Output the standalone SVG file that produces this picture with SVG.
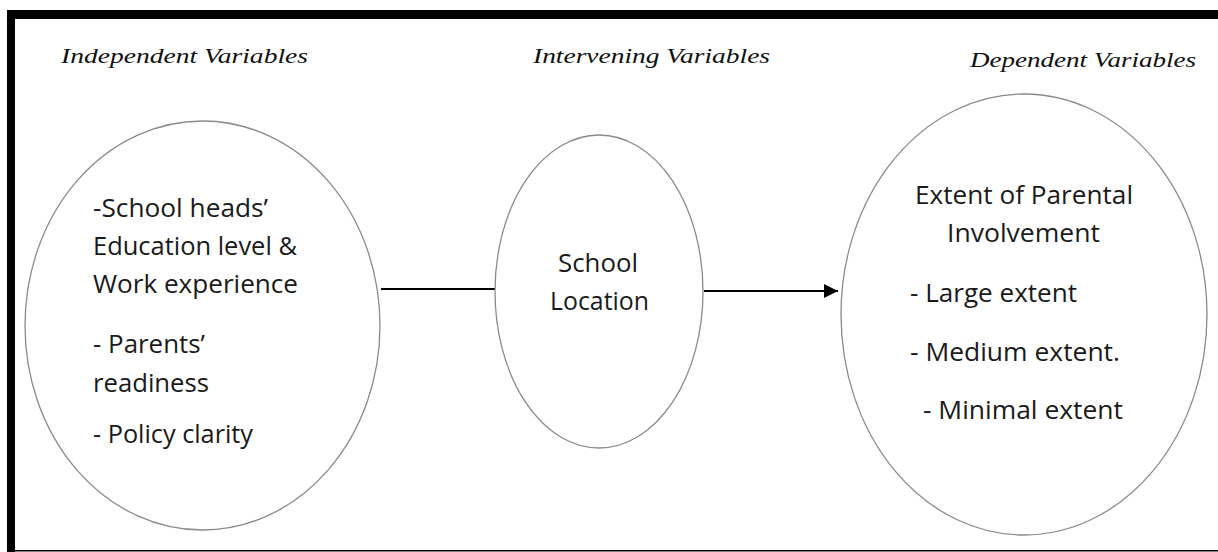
<svg xmlns="http://www.w3.org/2000/svg" width="1218" height="552" viewBox="0 0 1218 552">
<defs>
<style>
.title{font-family:"Liberation Serif","Times New Roman",serif;font-style:italic;font-size:22px;fill:#111;}
.body{font-family:"Open Sans","Liberation Sans",sans-serif;font-size:25px;fill:#1a1a1a;}
.node{fill:#fff;stroke:#8a8a8a;stroke-width:1.3;}
.conn{stroke:#000;stroke-width:2;fill:none;}
</style>
<marker id="arrow" markerWidth="16" markerHeight="16" refX="14" refY="7" orient="auto" markerUnits="userSpaceOnUse">
<path d="M0,0 L14,7 L0,14 Z" fill="#000"/>
</marker>
</defs>
<rect x="0" y="0" width="1218" height="552" fill="#fff"/>
<g id="frame">
<rect x="7" y="10" width="1211" height="9" fill="#000"/>
<rect x="7" y="10" width="8" height="542" fill="#000"/>
<rect x="15" y="550" width="1203" height="1.5" fill="#000"/>
</g>
<g id="headings">
<text class="title" x="61" y="63" textLength="247" lengthAdjust="spacingAndGlyphs">Independent Variables</text>
<text class="title" x="533" y="63" textLength="237" lengthAdjust="spacingAndGlyphs">Intervening Variables</text>
<text class="title" x="970" y="67" textLength="226" lengthAdjust="spacingAndGlyphs">Dependent Variables</text>
</g>
<g id="connectors">
<line class="conn" x1="381" y1="289" x2="496" y2="289"/>
<line class="conn" x1="704" y1="291" x2="838" y2="291" marker-end="url(#arrow)"/>
</g>
<g id="node-independent">
<ellipse class="node" cx="202.5" cy="325.5" rx="177.5" ry="204.5"/>
<text class="body" x="93" y="217" textLength="175" lengthAdjust="spacingAndGlyphs">-School heads’</text>
<text class="body" x="93" y="255" textLength="204" lengthAdjust="spacingAndGlyphs">Education level &amp;</text>
<text class="body" x="93" y="293" textLength="205" lengthAdjust="spacingAndGlyphs">Work experience</text>
<text class="body" x="93" y="353" textLength="112" lengthAdjust="spacingAndGlyphs">- Parents’</text>
<text class="body" x="93" y="392" textLength="116" lengthAdjust="spacingAndGlyphs">readiness</text>
<text class="body" x="93" y="443" textLength="160" lengthAdjust="spacingAndGlyphs">- Policy clarity</text>
</g>
<g id="node-intervening">
<ellipse class="node" cx="599" cy="291.5" rx="104" ry="156.5"/>
<text class="body" x="558" y="272" textLength="80" lengthAdjust="spacingAndGlyphs">School</text>
<text class="body" x="550" y="310" textLength="99" lengthAdjust="spacingAndGlyphs">Location</text>
</g>
<g id="node-dependent">
<ellipse class="node" cx="1024" cy="314.5" rx="183" ry="220.5"/>
<text class="body" x="915" y="204" textLength="218" lengthAdjust="spacingAndGlyphs">Extent of Parental</text>
<text class="body" x="947" y="242" textLength="153" lengthAdjust="spacingAndGlyphs">Involvement</text>
<text class="body" x="910" y="302" textLength="167" lengthAdjust="spacingAndGlyphs">- Large extent</text>
<text class="body" x="910" y="361" textLength="210" lengthAdjust="spacingAndGlyphs">- Medium extent.</text>
<text class="body" x="923" y="419" textLength="200" lengthAdjust="spacingAndGlyphs">- Minimal extent</text>
</g>
</svg>
